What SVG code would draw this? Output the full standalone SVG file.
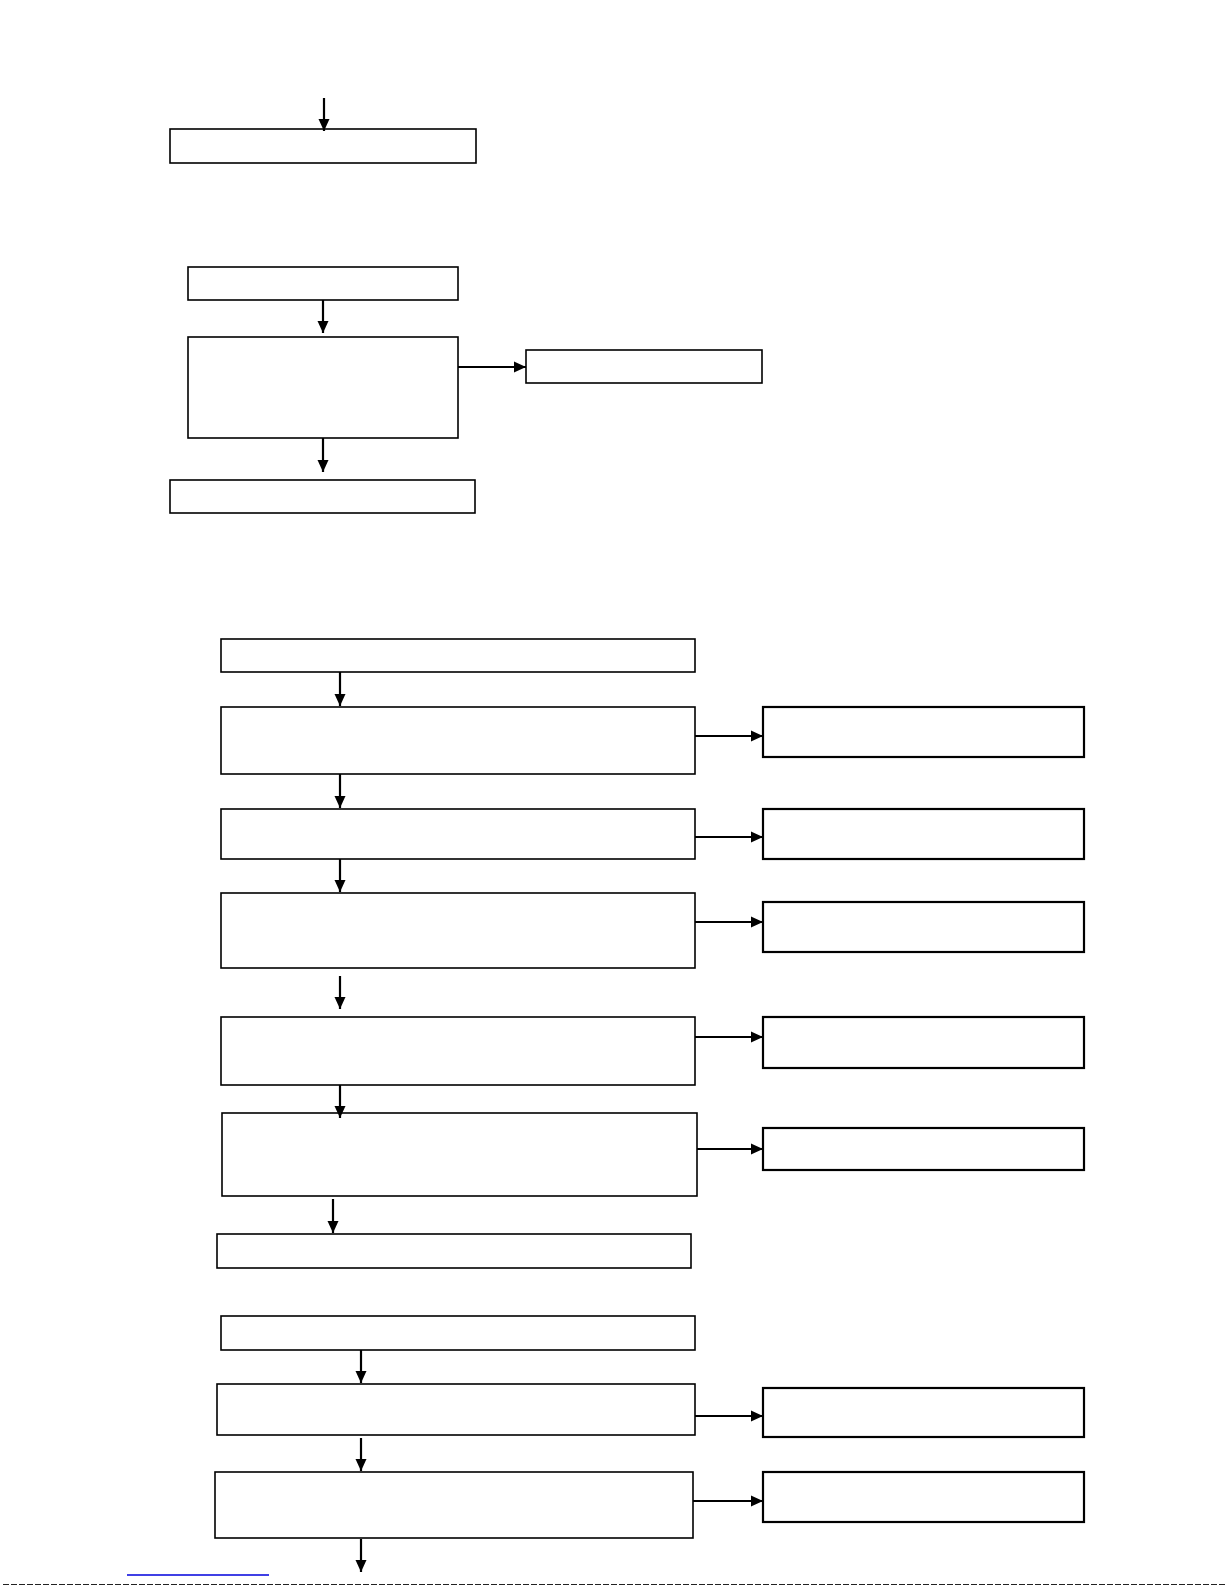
<svg xmlns="http://www.w3.org/2000/svg" width="1225" height="1585" viewBox="0 0 1225 1585">
<style>
.box{fill:#fff;stroke:#000;stroke-width:1.6}
.bx2{fill:#fff;stroke:#000;stroke-width:2.2}
.con{stroke:#000;stroke-width:2.2;fill:none}
</style>
<defs>
<marker id="ah" markerUnits="userSpaceOnUse" markerWidth="12" markerHeight="12" refX="12" refY="6" orient="auto">
<path d="M0,0.5 L12,6 L0,11.5 z" fill="#000"/>
</marker>
</defs>
<rect width="1225" height="1585" fill="#fff"/>
<g id="n1"><rect class="box" x="170" y="129" width="306" height="34"/></g>
<g id="n2"><rect class="box" x="188" y="267" width="270" height="33"/></g>
<g id="n3"><rect class="box" x="188" y="337" width="270" height="101"/></g>
<g id="n4"><rect class="box" x="526" y="350" width="236" height="33"/></g>
<g id="n5"><rect class="box" x="170" y="480" width="305" height="33"/></g>

<g id="n6"><rect class="box" x="221" y="639" width="474" height="33"/></g>
<g id="n7"><rect class="box" x="221" y="707" width="474" height="67"/></g>
<g id="n7r"><rect class="bx2" x="763" y="707" width="321" height="50"/></g>
<g id="n8"><rect class="box" x="221" y="809" width="474" height="50"/></g>
<g id="n8r"><rect class="bx2" x="763" y="809" width="321" height="50"/></g>
<g id="n9"><rect class="box" x="221" y="893" width="474" height="75"/></g>
<g id="n9r"><rect class="bx2" x="763" y="902" width="321" height="50"/></g>
<g id="n10"><rect class="box" x="221" y="1017" width="474" height="68"/></g>
<g id="n10r"><rect class="bx2" x="763" y="1017" width="321" height="51"/></g>
<g id="n11"><rect class="box" x="222" y="1113" width="475" height="83"/></g>
<g id="n11r"><rect class="bx2" x="763" y="1128" width="321" height="42"/></g>
<g id="n12"><rect class="box" x="217" y="1234" width="474" height="34"/></g>
<g id="n13"><rect class="box" x="221" y="1316" width="474" height="34"/></g>
<g id="n14"><rect class="box" x="217" y="1384" width="478" height="51"/></g>
<g id="n14r"><rect class="bx2" x="763" y="1388" width="321" height="49"/></g>
<g id="n15"><rect class="box" x="215" y="1472" width="478" height="66"/></g>
<g id="n15r"><rect class="bx2" x="763" y="1472" width="321" height="50"/></g>

<g id="connectors">
<line class="con" x1="324" y1="98" x2="324" y2="131" marker-end="url(#ah)"/>
<line class="con" x1="323" y1="300" x2="323" y2="333" marker-end="url(#ah)"/>
<line class="con" x1="458" y1="367" x2="526" y2="367" marker-end="url(#ah)"/>
<line class="con" x1="323" y1="438" x2="323" y2="472" marker-end="url(#ah)"/>

<line class="con" x1="340" y1="672" x2="340" y2="706" marker-end="url(#ah)"/>
<line class="con" x1="695" y1="736" x2="763" y2="736" marker-end="url(#ah)"/>
<line class="con" x1="340" y1="774" x2="340" y2="808" marker-end="url(#ah)"/>
<line class="con" x1="695" y1="837" x2="763" y2="837" marker-end="url(#ah)"/>
<line class="con" x1="340" y1="859" x2="340" y2="892" marker-end="url(#ah)"/>
<line class="con" x1="695" y1="922" x2="763" y2="922" marker-end="url(#ah)"/>
<line class="con" x1="340" y1="976" x2="340" y2="1009" marker-end="url(#ah)"/>
<line class="con" x1="695" y1="1037" x2="763" y2="1037" marker-end="url(#ah)"/>
<line class="con" x1="340" y1="1085" x2="340" y2="1118" marker-end="url(#ah)"/>
<line class="con" x1="697" y1="1149" x2="763" y2="1149" marker-end="url(#ah)"/>
<line class="con" x1="333" y1="1199" x2="333" y2="1233" marker-end="url(#ah)"/>
<line class="con" x1="361" y1="1350" x2="361" y2="1383" marker-end="url(#ah)"/>
<line class="con" x1="695" y1="1416" x2="763" y2="1416" marker-end="url(#ah)"/>
<line class="con" x1="361" y1="1438" x2="361" y2="1471" marker-end="url(#ah)"/>
<line class="con" x1="693" y1="1501" x2="763" y2="1501" marker-end="url(#ah)"/>
<line class="con" x1="361" y1="1539" x2="361" y2="1572" marker-end="url(#ah)"/>
</g>
<line x1="127" y1="1575" x2="269" y2="1575" stroke="#0000dd" stroke-width="1.5"/>
<line x1="3" y1="1584.5" x2="1225" y2="1584.5" stroke="#222" stroke-width="1" stroke-dasharray="6,2"/>
</svg>
